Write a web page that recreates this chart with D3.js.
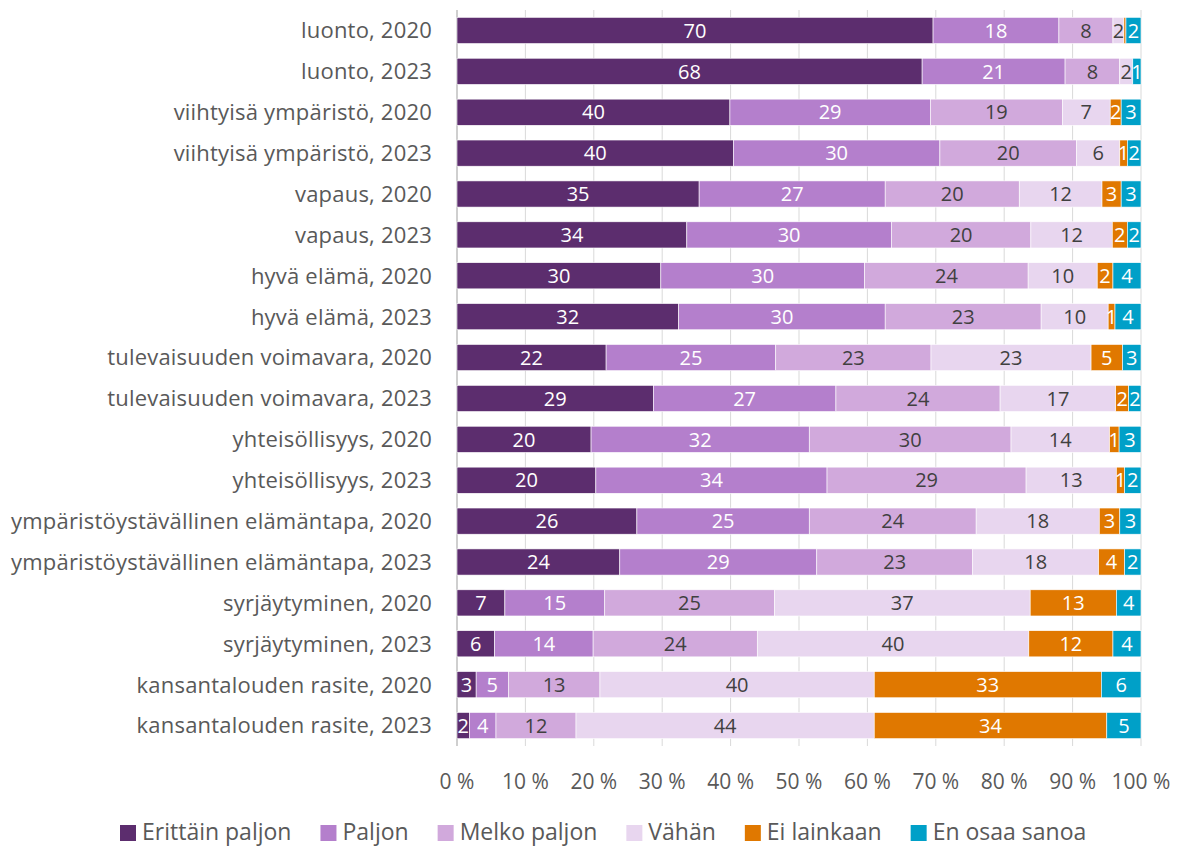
<!DOCTYPE html>
<html>
<head>
<meta charset="utf-8">
<script src="https://cdn.jsdelivr.net/npm/d3@7"></script>
<style>
  body { margin: 0; background: #fff; }
  text { font-family: "Open Sans", "Noto Sans", sans-serif; }
</style>
</head>
<body>
<svg id="chart" width="1180" height="848"></svg>
<script>
const categories = [
  "luonto, 2020", "luonto, 2023",
  "viihtyisä ympäristö, 2020", "viihtyisä ympäristö, 2023",
  "vapaus, 2020", "vapaus, 2023",
  "hyvä elämä, 2020", "hyvä elämä, 2023",
  "tulevaisuuden voimavara, 2020", "tulevaisuuden voimavara, 2023",
  "yhteisöllisyys, 2020", "yhteisöllisyys, 2023",
  "ympäristöystävällinen elämäntapa, 2020", "ympäristöystävällinen elämäntapa, 2023",
  "syrjäytyminen, 2020", "syrjäytyminen, 2023",
  "kansantalouden rasite, 2020", "kansantalouden rasite, 2023"
];

const seriesNames = ["Erittäin paljon", "Paljon", "Melko paljon", "Vähän", "Ei lainkaan", "En osaa sanoa"];

const erittainPaljon = [69.6, 68.0, 39.9, 40.4, 35.4, 33.6, 29.8, 32.4, 21.8, 28.7, 19.6, 20.3, 26.3, 23.8, 7.0, 5.5, 2.8, 1.8];
const paljon         = [18.4, 20.9, 29.3, 30.2, 27.2, 29.9, 29.8, 30.2, 24.8, 26.7, 31.9, 33.8, 25.2, 28.8, 14.6, 14.4, 4.7, 3.9];
const melkoPaljon    = [7.9, 8.0, 19.3, 20.0, 19.6, 20.4, 23.9, 22.8, 22.7, 24.0, 29.5, 29.1, 24.4, 22.8, 24.8, 24.0, 13.4, 11.7];
const vahan          = [1.6, 1.9, 7.0, 6.3, 12.1, 11.9, 10.1, 9.8, 23.4, 16.9, 14.4, 13.2, 18.0, 18.4, 37.4, 39.7, 40.1, 43.6];
const eiLainkaan     = [0.3, 0, 1.6, 1.1, 2.8, 2.2, 2.3, 1.0, 4.6, 1.9, 1.4, 1.2, 3.0, 3.8, 12.6, 12.3, 33.2, 34.0];
const enOsaaSanoa    = [2.2, 1.2, 2.9, 2.0, 2.9, 2.0, 4.1, 3.8, 2.7, 1.8, 3.2, 2.4, 3.1, 2.4, 3.6, 4.1, 5.8, 5.0];

const xTicks = [0, 10, 20, 30, 40, 50, 60, 70, 80, 90, 100];

const colors = ["#5c2d6e", "#b47fcc", "#d1a9dc", "#e8d6ef", "#e07800", "#00a0c8"];
const labelColors = ["#ffffff", "#ffffff", "#404040", "#404040", "#ffffff", "#ffffff"];

const seriesValues = [erittainPaljon, paljon, melkoPaljon, vahan, eiLainkaan, enOsaaSanoa];

const rows = categories.map((c, i) => {
  const row = { category: c };
  seriesNames.forEach((s, j) => row[s] = seriesValues[j][i]);
  return row;
});

const svg = d3.select("#chart");
const margin = { top: 10, right: 39, bottom: 102, left: 457 };
const width = 1180 - margin.left - margin.right;
const height = 848 - margin.top - margin.bottom;

const x = d3.scaleLinear().domain([0, 100]).range([margin.left, margin.left + width]);
const y = d3.scaleBand().domain(categories).range([margin.top, margin.top + height]).paddingInner(0.36).paddingOuter(0.18);

// gridlines
svg.append("g")
  .selectAll("line")
  .data(xTicks)
  .enter()
  .append("line")
  .attr("x1", d => x(d))
  .attr("x2", d => x(d))
  .attr("y1", margin.top)
  .attr("y2", margin.top + height)
  .attr("stroke", d => d === 0 ? "#bfbfbf" : "#d9d9d9")
  .attr("stroke-width", d => d === 0 ? 1.5 : 1);

const stack = d3.stack().keys(seriesNames);
const stacked = stack(rows);

const layers = svg.append("g")
  .selectAll("g")
  .data(stacked)
  .enter()
  .append("g")
  .attr("fill", (d, i) => colors[i]);

layers.selectAll("rect")
  .data(d => d)
  .enter()
  .append("rect")
  .attr("x", d => x(d[0]))
  .attr("y", d => y(d.data.category))
  .attr("width", d => x(d[1]) - x(d[0]))
  .attr("height", y.bandwidth())
  .attr("stroke", "#fff")
  .attr("stroke-width", 0.6);

// value labels
layers.each(function (layer, i) {
  d3.select(this).selectAll("text")
    .data(layer.filter(d => d[1] - d[0] >= 0.5))
    .enter()
    .append("text")
    .attr("x", d => x((d[0] + d[1]) / 2))
    .attr("y", d => y(d.data.category) + y.bandwidth() / 2)
    .attr("dy", "0.36em")
    .attr("text-anchor", "middle")
    .attr("fill", labelColors[i])
    .style("font-size", "20px")
    .text(d => Math.round(d[1] - d[0]));
});

// category labels
svg.append("g")
  .selectAll("text")
  .data(categories)
  .enter()
  .append("text")
  .attr("x", margin.left - 25)
  .attr("y", d => y(d) + y.bandwidth() / 2)
  .attr("dy", "0.36em")
  .attr("text-anchor", "end")
  .attr("fill", "#595959")
  .style("font-size", "22px")
  .style("letter-spacing", "0.2px")
  .text(d => d);

// x tick labels
svg.append("g")
  .selectAll("text")
  .data(xTicks)
  .enter()
  .append("text")
  .attr("x", d => x(d))
  .attr("y", 789)
  .attr("text-anchor", "middle")
  .attr("fill", "#595959")
  .style("font-size", "21px")
  .text(d => d + " %");

// legend
const legend = svg.append("g").attr("transform", "translate(120,840)");
let lx = 0;
seriesNames.forEach((s, i) => {
  const g = legend.append("g").attr("transform", `translate(${lx},0)`);
  g.append("rect")
    .attr("x", 0).attr("y", -15)
    .attr("width", 16).attr("height", 16)
    .attr("fill", colors[i]);
  const t = g.append("text")
    .attr("x", 22)
    .attr("y", 0)
    .attr("fill", "#595959")
    .style("font-size", "23px")
    .text(s);
  lx += 22 + t.node().getComputedTextLength() + 29;
});
</script>
</body>
</html>
